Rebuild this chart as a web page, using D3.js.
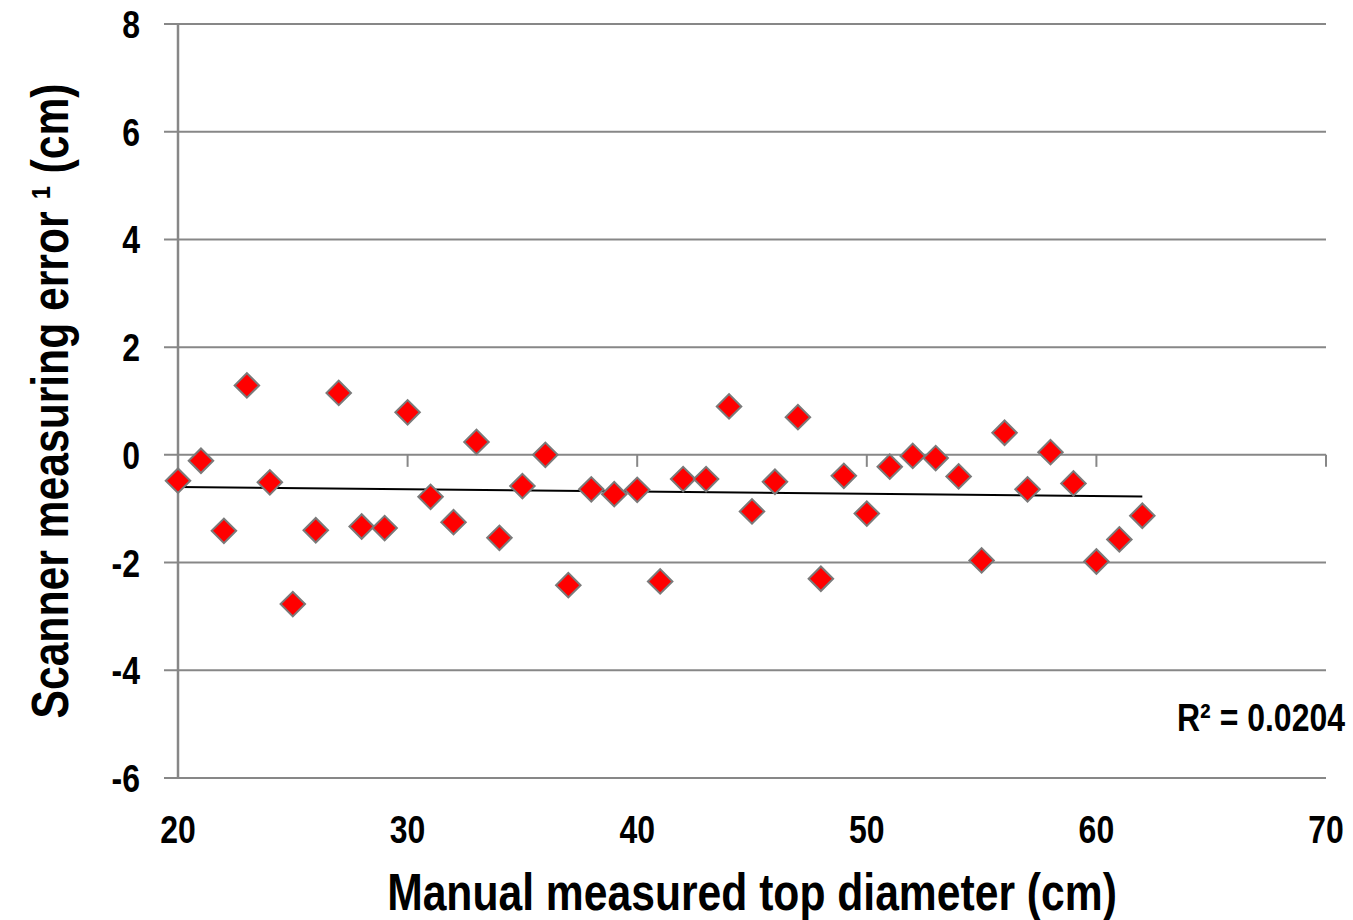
<!DOCTYPE html>
<html>
<head>
<meta charset="utf-8">
<script src="https://cdn.jsdelivr.net/npm/d3@7"></script>
<style>
  html, body { margin: 0; padding: 0; background: #fff; }
  svg text { font-family: 'Liberation Sans', Arial, sans-serif; font-weight: bold; fill: #000; }
</style>
</head>
<body>
<div class="chart"></div>
<script>
// manual top diameter (cm) and scanner error (cm)
const diameters = [20, 21, 22, 23, 24, 25, 26, 27, 28, 29, 30, 31, 32, 33, 34, 35, 36, 37, 38, 39, 40,
  41, 42, 43, 44, 45, 46, 47, 48, 49, 50, 51, 52, 53, 54, 55, 56, 57, 58, 59, 60, 61, 62];
const errors = [-0.48, -0.11, -1.41, 1.29, -0.51, -2.77, -1.40, 1.15, -1.33, -1.36, 0.79,
  -0.78, -1.25, 0.24, -1.54, -0.58, 0.0, -2.42, -0.64, -0.73, -0.65,
  -2.35, -0.45, -0.45, 0.90, -1.05, -0.50, 0.70, -2.30, -0.39, -1.09,
  -0.22, -0.02, -0.06, -0.40, -1.96, 0.41, -0.64, 0.05, -0.53, -1.98, -1.57, -1.13];
const xTicks = [20, 30, 40, 50, 60, 70];
const yTicks = [-6, -4, -2, 0, 2, 4, 6, 8];
const r2Label = "R² = 0.0204";

const width = 1353, height = 920;
const margin = {top: 24, right: 27, bottom: 142, left: 178};
const gridColor = "#878787";
const narrow = 0.82; // no narrow font installed, squeeze Liberation Sans instead

const svg = d3.select(".chart").append("svg")
    .attr("width", width)
    .attr("height", height);

const x = d3.scaleLinear().domain([20, 70]).range([margin.left, width - margin.right]);
const y = d3.scaleLinear().domain([-6, 8]).range([height - margin.bottom, margin.top]);

// place a text at (tx, ty), condensed horizontally
const place = (tx, ty, rot) => `translate(${tx},${ty})` + (rot ? ` rotate(${rot})` : "") + ` scale(${narrow},1)`;

// horizontal gridlines + y ticks (extend left of the axis)
svg.append("g")
  .selectAll("line")
  .data(yTicks)
  .enter().append("line")
    .attr("x1", x(20) - 14)
    .attr("x2", x(70))
    .attr("y1", d => y(d))
    .attr("y2", d => y(d))
    .attr("stroke", gridColor)
    .attr("stroke-width", 2);

// y axis line
svg.append("line")
    .attr("x1", x(20)).attr("x2", x(20))
    .attr("y1", y(8)).attr("y2", y(-6))
    .attr("stroke", gridColor)
    .attr("stroke-width", 2.5);

// x axis sits at y = 0, with ticks hanging below
svg.append("g")
  .selectAll("line")
  .data(xTicks.slice(1))
  .enter().append("line")
    .attr("x1", d => x(d)).attr("x2", d => x(d))
    .attr("y1", y(0)).attr("y2", y(0) + 12)
    .attr("stroke", gridColor)
    .attr("stroke-width", 2);

// tick labels
svg.append("g")
  .selectAll("text")
  .data(yTicks)
  .enter().append("text")
    .attr("transform", d => place(x(20) - 38, y(d)))
    .attr("dy", "0.36em")
    .attr("text-anchor", "end")
    .style("font-size", "39px")
    .text(d => d);

svg.append("g")
  .selectAll("text")
  .data(xTicks)
  .enter().append("text")
    .attr("transform", d => place(x(d), y(-6) + 65))
    .attr("text-anchor", "middle")
    .style("font-size", "39px")
    .text(d => d);

// linear trendline (least squares)
const mx = d3.mean(diameters), my = d3.mean(errors);
const slope = d3.sum(diameters, (d, i) => (d - mx) * (errors[i] - my)) /
              d3.sum(diameters, d => (d - mx) * (d - mx));
const icpt = my - slope * mx;
const xExt = d3.extent(diameters);

svg.append("line")
    .attr("x1", x(xExt[0])).attr("y1", y(icpt + slope * xExt[0]))
    .attr("x2", x(xExt[1])).attr("y2", y(icpt + slope * xExt[1]))
    .attr("stroke", "#000")
    .attr("stroke-width", 2);

// diamond markers
const diamond = d3.symbol().type(d3.symbolSquare).size(300);
svg.append("g")
  .selectAll("path")
  .data(diameters)
  .enter().append("path")
    .attr("d", diamond)
    .attr("transform", (d, i) => `translate(${x(d)},${y(errors[i])}) rotate(45)`)
    .attr("fill", "#ff0000")
    .attr("stroke", "#7a7a7a")
    .attr("stroke-width", 2);

// R² label
svg.append("text")
    .attr("transform", place(width - 8, 731))
    .attr("text-anchor", "end")
    .style("font-size", "39px")
    .text(r2Label);

// axis titles
svg.append("text")
    .attr("transform", place((x(20) + x(70)) / 2, 910))
    .attr("text-anchor", "middle")
    .style("font-size", "52px")
    .text("Manual measured top diameter (cm)");

svg.append("text")
    .attr("transform", place(68, (y(8) + y(-6)) / 2, -90))
    .attr("text-anchor", "middle")
    .style("font-size", "52px")
    .text("Scanner measuring error ¹ (cm)");
</script>
</body>
</html>
